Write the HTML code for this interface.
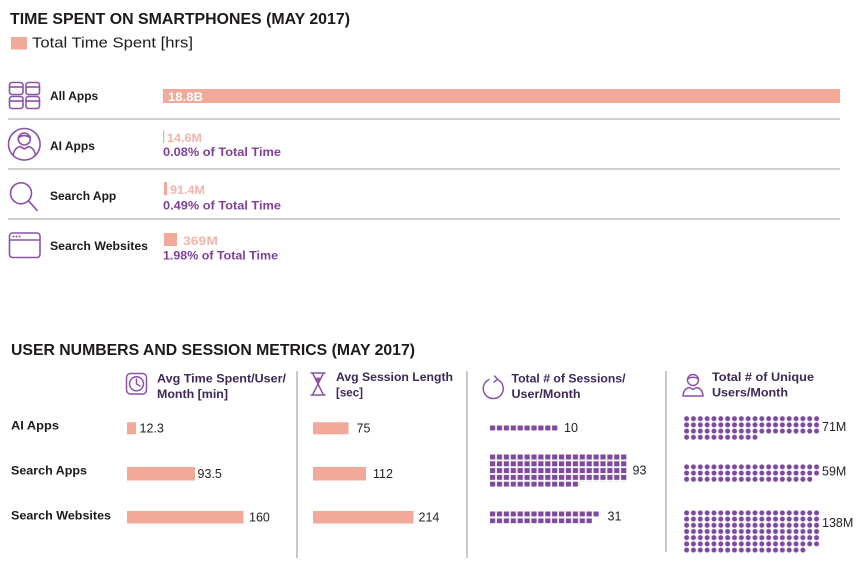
<!DOCTYPE html>
<html><head><meta charset="utf-8"><style>
html,body{margin:0;padding:0;background:#fff;}
svg{display:block;}
text{font-family:"Liberation Sans",Arial,sans-serif;}
.b{font-weight:bold;}
</style></head><body>
<svg width="857" height="565" viewBox="0 0 857 565" xmlns="http://www.w3.org/2000/svg">
<defs>
  <pattern id="sqA" patternUnits="userSpaceOnUse" x="490" y="425.5" width="6.9" height="6.8"><rect x="0" y="0" width="5.2" height="5" fill="#7d4a9d"/></pattern>
  <pattern id="sqB" patternUnits="userSpaceOnUse" x="490" y="454.5" width="6.9" height="6.8"><rect x="0" y="0" width="5.2" height="5" fill="#7d4a9d"/></pattern>
  <pattern id="sqC" patternUnits="userSpaceOnUse" x="490" y="511.5" width="6.9" height="6.8"><rect x="0" y="0" width="5.2" height="5" fill="#7d4a9d"/></pattern>
  <pattern id="dA" patternUnits="userSpaceOnUse" x="684" y="416" width="6.84" height="6.2"><circle cx="2.6" cy="2.6" r="2.5" fill="#7d4a9d"/></pattern>
  <pattern id="dB" patternUnits="userSpaceOnUse" x="684" y="464.2" width="6.84" height="6.2"><circle cx="2.6" cy="2.6" r="2.5" fill="#7d4a9d"/></pattern>
  <pattern id="dC" patternUnits="userSpaceOnUse" x="684" y="510.2" width="6.84" height="6.2"><circle cx="2.6" cy="2.6" r="2.5" fill="#7d4a9d"/></pattern>
</defs>

<!-- Top title -->
<text x="10" y="24" class="b" font-size="16" fill="#1e1a1c" textLength="340" lengthAdjust="spacingAndGlyphs">TIME SPENT ON SMARTPHONES (MAY 2017)</text>
<rect x="11" y="37" width="16" height="12.5" fill="#f3a99a"/>
<text x="32" y="47.5" font-size="15" fill="#1e1a1c" textLength="161" lengthAdjust="spacingAndGlyphs">Total Time Spent [hrs]</text>

<!-- Icons top -->
<g fill="none" stroke="#8b52a6" stroke-width="1.6" stroke-linejoin="round">
  <!-- All apps -->
  <rect x="9.5" y="82.5" width="13.5" height="12" rx="2.5"/>
  <line x1="9.5" y1="87" x2="23" y2="87"/>
  <rect x="26" y="82.5" width="13.5" height="12" rx="2.5"/>
  <line x1="26" y1="87" x2="39.5" y2="87"/>
  <rect x="9.5" y="96.5" width="13.5" height="12" rx="2.5"/>
  <line x1="9.5" y1="101" x2="23" y2="101"/>
  <rect x="26" y="96.5" width="13.5" height="12" rx="2.5"/>
  <line x1="26" y1="101" x2="39.5" y2="101"/>
  <!-- AI apps -->
  <circle cx="24.3" cy="144.3" r="15.8"/>
  <circle cx="24.3" cy="139" r="6"/>
  <path d="M18.3 138 Q24 133 30.3 138"/>
  <path d="M13 156 Q14 148 20 146.5 L24.3 149 L28.6 146.5 Q34.6 148 35.6 156"/>
  <!-- Search -->
  <circle cx="21" cy="193.3" r="10.5"/>
  <line x1="28.5" y1="200.8" x2="37.5" y2="210.8"/>
  <!-- Website -->
  <rect x="9.5" y="233" width="30.5" height="24.5" rx="3"/>
  <line x1="9.5" y1="240" x2="40" y2="240"/>
</g>
<g fill="#8b52a6"><circle cx="13.5" cy="236.5" r="1"/><circle cx="16.5" cy="236.5" r="1"/><circle cx="19.5" cy="236.5" r="1"/></g>

<!-- Row labels top -->
<text x="50" y="100" class="b" font-size="12" fill="#1a1a1a">All Apps</text>
<text x="50" y="150" class="b" font-size="12" fill="#1a1a1a">AI Apps</text>
<text x="50" y="200" class="b" font-size="12" fill="#1a1a1a">Search App</text>
<text x="50" y="250" class="b" font-size="12" fill="#1a1a1a" textLength="98" lengthAdjust="spacingAndGlyphs">Search Websites</text>

<!-- Top bars -->
<rect x="163" y="89" width="677" height="14" fill="#f3a99a"/>
<text x="168" y="101" class="b" font-size="12" fill="#ffffff" textLength="35" lengthAdjust="spacingAndGlyphs">18.8B</text>

<rect x="163" y="130.5" width="1.2" height="12.5" fill="#f3a99a"/>
<text x="167" y="142" class="b" font-size="12" fill="#f4b4aa" textLength="35" lengthAdjust="spacingAndGlyphs">14.6M</text>
<text x="163" y="156" class="b" font-size="12" fill="#7f3f98" textLength="118" lengthAdjust="spacingAndGlyphs">0.08% of Total Time</text>

<rect x="164" y="182" width="3" height="13" fill="#f3a99a"/>
<text x="170" y="194" class="b" font-size="12" fill="#f4b4aa" textLength="35" lengthAdjust="spacingAndGlyphs">91.4M</text>
<text x="163" y="209.5" class="b" font-size="12" fill="#7f3f98" textLength="118" lengthAdjust="spacingAndGlyphs">0.49% of Total Time</text>

<rect x="164" y="233" width="13" height="13" fill="#f3a99a"/>
<text x="183" y="245" class="b" font-size="12" fill="#f4b4aa" textLength="35" lengthAdjust="spacingAndGlyphs">369M</text>
<text x="163" y="259.5" class="b" font-size="12" fill="#7f3f98" textLength="115" lengthAdjust="spacingAndGlyphs">1.98% of Total Time</text>

<!-- Separators -->
<g stroke="#bdbdbd" stroke-width="1.6">
  <line x1="8" y1="119" x2="840" y2="119"/>
  <line x1="8" y1="169" x2="840" y2="169"/>
  <line x1="8" y1="219" x2="840" y2="219"/>
</g>

<!-- Bottom title -->
<text x="11" y="355" class="b" font-size="16" fill="#1e1a1c" textLength="404" lengthAdjust="spacingAndGlyphs">USER NUMBERS AND SESSION METRICS (MAY 2017)</text>

<!-- Column dividers -->
<g stroke="#b5b5b5" stroke-width="1.5">
  <line x1="297" y1="371" x2="297" y2="558"/>
  <line x1="467" y1="371" x2="467" y2="558"/>
  <line x1="666" y1="371" x2="666" y2="552"/>
</g>

<!-- Column header icons -->
<g fill="none" stroke="#8b52a6" stroke-width="1.5" stroke-linejoin="round" stroke-linecap="round">
  <rect x="126.5" y="373.5" width="20" height="20.5" rx="4"/>
  <circle cx="136.5" cy="383.8" r="7"/>
  <path d="M136.5 379 L136.5 384 L140 386"/>
  <!-- hourglass -->
  <line x1="311" y1="373" x2="325" y2="373"/>
  <line x1="311" y1="395" x2="325" y2="395"/>
  <path d="M312.5 373 L323.5 395 M323.5 373 L312.5 395"/>
  <path d="M315 378 L321 378 L318 384 Z" fill="#8b52a6" stroke-width="0.8"/>
  <!-- sessions -->
  <path d="M489 379.5 A10 10 0 1 0 497.5 379.5"/>
  <path d="M494.5 376 L497.7 379.3 L494 382"/>
  <!-- user -->
  <circle cx="693" cy="380" r="5.5"/>
  <path d="M687.5 379 Q693 375.5 698.5 379"/>
  <path d="M683 396 Q683.5 388.5 689.5 387.5 L693 389.5 L696.5 387.5 Q702.5 388.5 703 396 Z"/>
</g>

<!-- Column header texts -->
<g class="b" font-size="12.3" fill="#3d2856" font-weight="bold">
  <text x="157" y="382.5" textLength="129" lengthAdjust="spacingAndGlyphs">Avg Time Spent/User/</text>
  <text x="157" y="398" textLength="71" lengthAdjust="spacingAndGlyphs">Month [min]</text>
  <text x="336" y="381" textLength="117" lengthAdjust="spacingAndGlyphs">Avg Session Length</text>
  <text x="336" y="396.5" textLength="27" lengthAdjust="spacingAndGlyphs">[sec]</text>
  <text x="511.5" y="382.5" textLength="114" lengthAdjust="spacingAndGlyphs">Total # of Sessions/</text>
  <text x="511.5" y="398" textLength="69" lengthAdjust="spacingAndGlyphs">User/Month</text>
  <text x="712" y="381" textLength="102" lengthAdjust="spacingAndGlyphs">Total # of Unique</text>
  <text x="712" y="396.5" textLength="76" lengthAdjust="spacingAndGlyphs">Users/Month</text>
</g>

<!-- Row labels bottom -->
<text x="11" y="429.5" class="b" font-size="12" fill="#1a1a1a" textLength="48" lengthAdjust="spacingAndGlyphs">AI Apps</text>
<text x="11" y="474.5" class="b" font-size="12" fill="#1a1a1a" textLength="76" lengthAdjust="spacingAndGlyphs">Search Apps</text>
<text x="11" y="519.5" class="b" font-size="12" fill="#1a1a1a" textLength="100" lengthAdjust="spacingAndGlyphs">Search Websites</text>

<!-- Col 1 bars -->
<g fill="#f3a99a">
  <rect x="127" y="422.3" width="9" height="12"/>
  <rect x="127" y="467" width="68" height="13.5"/>
  <rect x="127" y="511" width="116.5" height="12.5"/>
  <rect x="313" y="422.3" width="35.5" height="12"/>
  <rect x="313" y="467" width="53" height="13.5"/>
  <rect x="313" y="511" width="100.5" height="12.5"/>
</g>
<g font-size="12.5" fill="#222">
  <text x="139.5" y="432.5">12.3</text>
  <text x="197.5" y="477.8">93.5</text>
  <text x="249" y="521.3">160</text>
  <text x="356.5" y="432.5">75</text>
  <text x="373" y="477.8">112</text>
  <text x="418.5" y="521.3">214</text>
  <text x="564" y="431.8">10</text>
  <text x="632.5" y="474.5">93</text>
  <text x="607.5" y="520.3">31</text>
  <text x="822" y="431">71M</text>
  <text x="822" y="475.5">59M</text>
  <text x="822" y="527">138M</text>
</g>

<!-- Sessions squares -->
<rect x="490" y="425.5" width="69" height="5" fill="url(#sqA)"/>
<rect x="490" y="454.5" width="138" height="27.2" fill="url(#sqB)"/>
<rect x="490" y="481.7" width="89.7" height="5" fill="url(#sqB)"/>
<rect x="490" y="511.5" width="110.4" height="5" fill="url(#sqC)"/>
<rect x="490" y="518.3" width="103.5" height="5" fill="url(#sqC)"/>

<!-- Unique users dots -->
<rect x="684" y="416" width="136.8" height="18.6" fill="url(#dA)"/>
<rect x="684" y="434.6" width="75.24" height="6.2" fill="url(#dA)"/>
<rect x="684" y="464.2" width="136.8" height="12.4" fill="url(#dB)"/>
<rect x="684" y="476.6" width="129.96" height="6.2" fill="url(#dB)"/>
<rect x="684" y="510.2" width="136.8" height="37.2" fill="url(#dC)"/>
<rect x="684" y="547.4" width="123.12" height="6.2" fill="url(#dC)"/>
</svg>
</body></html>
